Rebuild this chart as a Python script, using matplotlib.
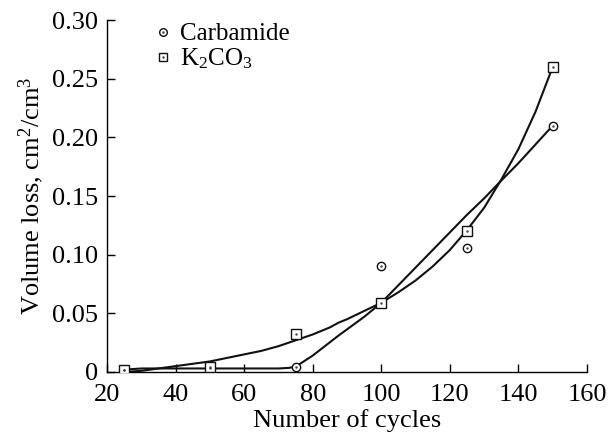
import numpy as np
import matplotlib
matplotlib.use('Agg')
import matplotlib.pyplot as plt
from matplotlib.legend_handler import HandlerTuple

plt.rcParams['font.family'] = ['Liberation Serif', 'DejaVu Serif']
plt.rcParams['mathtext.fontset'] = 'custom'
plt.rcParams['mathtext.rm'] = 'Liberation Serif'
plt.rcParams['mathtext.it'] = 'Liberation Serif:italic'

# measured points
cycles = [25, 50, 75, 100, 125, 150]
carbamide = [0.002, 0.003, 0.0045, 0.090, 0.1055, 0.210]
k2co3 = [0.002, 0.004, 0.032, 0.059, 0.1205, 0.260]

# trend lines
carb_fit_x = [25, 30, 40, 50, 60, 70, 73, 75, 80, 87.5, 95, 100,
              110, 120, 125, 130, 134.6, 140, 150]
carb_fit_y = [0.002, 0.003, 0.003, 0.003, 0.003, 0.003, 0.0035, 0.0045, 0.014, 0.031, 0.047, 0.059,
              0.089, 0.119, 0.134, 0.148, 0.162, 0.178, 0.210]
k2_fit_x = [25, 30, 35, 40, 45, 50, 55, 60, 65, 70, 75, 80, 85, 87.5, 90, 95, 100,
            105, 110, 115, 120, 125, 130, 135, 140, 145, 150]
k2_fit_y = [0.000, 0.001, 0.003, 0.005, 0.007, 0.009, 0.012, 0.015, 0.018, 0.022, 0.027, 0.032,
            0.038, 0.042, 0.045, 0.052, 0.059,
            0.068, 0.078, 0.090, 0.104, 0.121, 0.140, 0.164, 0.190, 0.222, 0.260]

xticks = [20, 40, 60, 80, 100, 120, 140, 160]
yticks = [0, 0.05, 0.10, 0.15, 0.20, 0.25, 0.30]
ylabels = ['0', '0.05', '0.10', '0.15', '0.20', '0.25', '0.30']

fig = plt.figure(figsize=(6.13, 4.36), dpi=100)
ax = fig.add_axes([0.1746, 0.1468, 0.783, 0.8073])

ax.plot(carb_fit_x, carb_fit_y, color='#111111', lw=1.5, zorder=2)
ax.plot(k2_fit_x, k2_fit_y, color='#111111', lw=1.5, zorder=2)

c1, = ax.plot(cycles, carbamide, 'o', ms=6, mfc='white', mec='#111111', mew=1.0,
              ls='none', zorder=3)
s1, = ax.plot(cycles, k2co3, 's', ms=6.6, mfc='white', mec='#111111', mew=1.0,
              ls='none', zorder=4)
d1, = ax.plot(cycles, carbamide, '.', ms=1.5, color='#444444', ls='none', zorder=5)
d2, = ax.plot(cycles, k2co3, '.', ms=1.5, color='#444444', ls='none', zorder=5)

ax.set_xlim(20, 160)
ax.set_ylim(0, 0.30)
ax.set_xticks(xticks)
ax.set_yticks(yticks)
ax.set_yticklabels(ylabels)
ax.tick_params(direction='in', length=6, width=1, labelsize=19)
ax.tick_params(axis='x', pad=8.5)
ax.tick_params(axis='y', pad=6.5)
for s in ['top', 'right']:
    ax.spines[s].set_visible(False)
for s in ['left', 'bottom']:
    ax.spines[s].set_linewidth(1.0)

ax.set_xlabel('Number of cycles', fontsize=19, labelpad=2)
ax.set_ylabel(r'Volume loss, cm$^2$/cm$^3$', fontsize=19, labelpad=4)

c_leg, = ax.plot([], [], 'o', ms=5.5, mfc='white', mec='#111111', mew=1.0)
s_leg, = ax.plot([], [], 's', ms=5.5, mfc='white', mec='#111111', mew=1.0)
ax.legend([(c_leg, d1), (s_leg, d2)], ['Carbamide', r'K$_2$CO$_3$'],
          handler_map={tuple: HandlerTuple(ndivide=1)},
          loc='upper left', bbox_to_anchor=(0.08, 1.02), frameon=False,
          prop={'family': 'Liberation Serif', 'size': 18},
          handlelength=0.6, handletextpad=0.4, labelspacing=0.05,
          borderaxespad=0)

fig.savefig('out.png', dpi=100)
